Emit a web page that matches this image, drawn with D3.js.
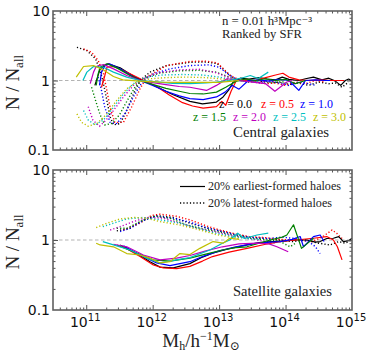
<!DOCTYPE html>
<html><head><meta charset="utf-8">
<script src="https://cdn.jsdelivr.net/npm/d3@7"></script>
<style>
html,body{margin:0;padding:0;background:#fff;}
svg{display:block;}
</style></head>
<body><svg id="c" width="374" height="359"></svg>
<script>
// ---------------- DATA ----------------
const redshifts = ["0.0","0.5","1.0","1.5","2.0","2.5","3.0"];
const zColors = ["#000000","#ff0000","#0000ff","#008000","#bf00bf","#00bfbf","#bfbf00"];
const yTickValues = [0.1, 1, 10];
const yTickLabels = ["0.1", "1", "10"];
const xTickExponents = [11, 12, 13, 14, 15];

// Central galaxies, 20% earliest-formed haloes: [log10 Mh, N/Nall]
const cenEarly = [
 [[11.13,0.85],[11.17,1.12],[11.21,1.47],[11.33,1.74],[11.51,1.52],[11.73,1.12],[11.91,0.95],[12.1,0.78],[12.3,0.63],[12.56,0.5],[12.75,0.46],[12.96,0.49],[13.06,0.58],[13.14,0.72],[13.21,0.94],[13.32,1.08],[13.45,1.05],[13.6,1.1],[13.72,1.05],[13.85,1.02],[13.95,1.12],[14.05,1.04],[14.2,1.0],[14.3,1.06],[14.42,1.12],[14.55,1.02],[14.65,1.08],[14.75,0.98],[14.83,0.85],[14.9,1.0],[14.95,1.05],[15.0,0.98]],
 [[11.23,0.8],[11.28,1.18],[11.31,1.55],[11.41,1.59],[11.56,1.39],[11.76,1.12],[11.91,0.95],[12.06,0.82],[12.25,0.62],[12.45,0.48],[12.6,0.43],[12.76,0.4],[12.96,0.42],[13.04,0.5],[13.1,0.44],[13.18,0.7],[13.26,1.0],[13.4,1.02],[13.55,1.0],[13.7,1.1],[13.85,1.2],[13.96,1.27],[14.05,1.12],[14.2,1.02],[14.35,1.0],[14.5,1.02],[14.7,1.0],[14.88,1.0]],
 [[11.2,0.85],[11.23,1.32],[11.28,1.64],[11.35,1.74],[11.51,1.47],[11.71,1.12],[11.84,0.98],[12.0,0.85],[12.2,0.7],[12.4,0.6],[12.56,0.55],[12.76,0.53],[12.96,0.58],[13.09,0.68],[13.2,0.85],[13.3,0.75],[13.44,1.0],[13.6,1.02],[13.75,0.98],[13.9,1.04],[14.05,1.0],[14.2,0.72],[14.3,1.0],[14.45,1.02],[14.6,1.0],[14.67,1.0]],
 [[11.15,0.85],[11.18,1.25],[11.21,1.55],[11.31,1.74],[11.46,1.52],[11.66,1.18],[11.81,1.0],[12.0,0.88],[12.2,0.77],[12.4,0.7],[12.56,0.65],[12.76,0.64],[12.96,0.68],[13.1,0.8],[13.25,0.97],[13.4,1.05],[13.55,1.0],[13.7,1.06],[13.85,1.0],[14.0,1.04],[14.15,0.9],[14.3,1.0]],
 [[11.06,0.9],[11.11,1.32],[11.15,1.59],[11.26,1.7],[11.41,1.47],[11.61,1.18],[11.81,1.0],[12.0,0.93],[12.2,0.87],[12.4,0.82],[12.56,0.8],[12.81,0.72],[12.96,0.85],[13.12,1.06],[13.3,1.0],[13.5,0.95],[13.7,0.9],[13.84,0.7],[14.02,0.95],[14.1,1.0]],
 [[10.95,1.0],[11.01,1.32],[11.11,1.59],[11.26,1.55],[11.41,1.32],[11.61,1.12],[11.81,1.0],[12.11,0.95],[12.3,0.91],[12.56,0.9],[12.8,0.92],[12.96,0.95],[13.15,1.0],[13.32,1.07],[13.47,1.18],[13.59,1.07],[13.74,1.32]],
 [[10.85,1.12],[10.96,1.59],[11.11,1.64],[11.26,1.42],[11.41,1.14],[11.55,1.02],[11.81,0.98],[12.1,0.95],[12.4,0.94],[12.7,0.94],[13.0,0.94],[13.2,0.98],[13.3,1.0]]
];
// Central galaxies, 20% latest-formed haloes
const cenLate = [
 [[10.86,3.0],[11.01,2.7],[11.14,2.05],[11.21,1.39],[11.26,0.9],[11.31,0.52],[11.36,0.3],[11.41,0.23],[11.51,0.24],[11.61,0.37],[11.71,0.64],[11.81,1.0],[11.96,1.32],[12.21,1.64],[12.56,1.83],[12.8,1.85],[12.97,1.75],[13.1,1.35],[13.2,1.1],[13.3,1.0],[13.45,0.95],[13.6,1.0],[13.75,0.92],[13.9,0.95],[14.05,0.88],[14.2,0.92],[14.35,0.85],[14.5,0.95],[14.65,0.9],[14.75,0.92],[14.85,0.8],[14.95,0.95]],
 [[10.96,2.85],[11.08,2.55],[11.18,1.94],[11.26,1.25],[11.31,0.72],[11.36,0.41],[11.43,0.25],[11.56,0.25],[11.68,0.41],[11.81,0.76],[11.91,1.12],[12.21,1.64],[12.56,1.88],[12.8,1.9],[12.97,1.8],[13.17,1.18],[13.27,1.06],[13.4,1.0],[13.55,0.95],[13.7,0.9],[13.85,0.92],[14.0,0.85],[14.15,0.95],[14.3,0.9],[14.45,1.0],[14.6,0.95]],
 [[11.18,1.12],[11.23,0.72],[11.28,0.41],[11.36,0.25],[11.46,0.24],[11.58,0.33],[11.71,0.58],[11.84,0.95],[12.01,1.25],[12.26,1.47],[12.56,1.64],[12.85,1.68],[13.0,1.55],[13.15,1.2],[13.3,1.0],[13.45,0.98],[13.6,0.92],[13.75,1.0],[13.9,0.92],[14.05,0.85],[14.2,0.95],[14.35,0.9],[14.45,0.85]],
 [[11.08,0.8],[11.16,0.45],[11.21,0.32],[11.28,0.23],[11.38,0.24],[11.5,0.32],[11.62,0.52],[11.75,0.85],[11.9,1.1],[12.1,1.28],[12.4,1.38],[12.7,1.4],[12.95,1.32],[13.15,1.12],[13.3,1.0],[13.5,0.97],[13.65,1.0],[13.8,0.93],[13.95,0.96],[14.05,0.9]],
 [[11.03,0.42],[11.1,0.27],[11.2,0.22],[11.3,0.27],[11.41,0.37],[11.56,0.58],[11.71,0.85],[11.91,1.12],[12.1,1.3],[12.4,1.42],[12.7,1.45],[12.95,1.3],[13.15,1.1],[13.3,1.0],[13.45,1.02],[13.6,0.95],[13.75,1.0],[13.85,0.95]],
 [[10.96,0.37],[11.03,0.27],[11.13,0.23],[11.26,0.27],[11.41,0.41],[11.56,0.64],[11.71,0.9],[11.91,1.12],[12.15,1.2],[12.45,1.22],[12.75,1.2],[13.0,1.12],[13.2,1.03],[13.4,1.0],[13.6,0.97]],
 [[10.86,0.33],[10.93,0.25],[11.03,0.22],[11.16,0.24],[11.31,0.33],[11.46,0.52],[11.61,0.76],[11.76,0.95],[11.96,1.06],[12.2,1.1],[12.5,1.12],[12.8,1.1],[13.05,1.05],[13.3,1.0]]
];
// Satellite galaxies, 20% earliest-formed haloes
const satEarly = [
 [[11.51,0.85],[11.76,0.64],[11.96,0.49],[12.11,0.41],[12.31,0.4],[12.56,0.46],[12.75,0.57],[12.9,0.65],[13.15,0.75],[13.42,0.85],[13.6,0.92],[13.8,0.95],[14.0,0.97],[14.15,1.0],[14.32,1.0],[14.45,0.93],[14.52,0.95],[14.62,1.05],[14.72,1.06],[14.8,1.12],[14.87,0.95],[14.95,0.98],[15.0,1.06]],
 [[11.56,0.8],[11.81,0.58],[12.01,0.44],[12.16,0.4],[12.36,0.39],[12.56,0.42],[12.75,0.5],[12.9,0.58],[13.15,0.67],[13.42,0.76],[13.7,0.87],[13.92,0.95],[14.15,1.0],[14.42,1.06],[14.62,1.12],[14.72,1.0],[14.78,0.8],[14.85,0.52]],
 [[11.56,0.83],[11.81,0.61],[12.06,0.47],[12.26,0.43],[12.56,0.49],[12.75,0.58],[13.0,0.7],[13.25,0.8],[13.5,0.88],[13.75,0.93],[13.92,0.95],[14.1,1.02],[14.22,1.12],[14.27,0.8],[14.42,1.12],[14.52,1.18],[14.58,0.95]],
 [[11.46,0.85],[11.71,0.68],[12.01,0.52],[12.26,0.5],[12.56,0.55],[12.8,0.63],[13.05,0.72],[13.25,0.78],[13.42,0.8],[13.6,0.9],[13.77,1.0],[13.95,1.1],[14.02,1.18],[14.12,1.65],[14.24,0.76],[14.42,1.06]],
 [[11.41,0.87],[11.61,0.8],[11.86,0.61],[12.11,0.52],[12.36,0.55],[12.56,0.6],[12.8,0.7],[13.05,0.8],[13.3,0.88],[13.57,0.9],[13.75,0.88],[13.87,0.8],[14.04,0.68]],
 [[11.25,0.95],[11.41,0.85],[11.66,0.72],[11.91,0.55],[12.11,0.47],[12.36,0.52],[12.56,0.56],[12.86,0.72],[13.05,0.9],[13.16,1.0],[13.28,1.25],[13.38,1.05],[13.57,1.18],[13.74,1.25]],
 [[11.15,0.9],[11.21,0.85],[11.41,0.8],[11.61,0.64],[11.81,0.61],[11.96,0.55],[12.11,0.47],[12.26,0.49],[12.41,0.64],[12.56,0.62],[12.71,0.76],[12.91,0.95],[13.06,0.9],[13.16,1.06],[13.3,1.02]]
];
// Satellite galaxies, 20% latest-formed haloes
const satLate = [
 [[11.46,1.35],[11.66,1.47],[11.86,1.94],[12.06,2.24],[12.31,2.1],[12.56,1.74],[12.8,1.5],[13.01,1.35],[13.25,1.2],[13.45,1.1],[13.7,1.05],[13.9,1.0],[14.1,0.95],[14.3,1.0],[14.5,0.9],[14.67,0.85],[14.8,0.95],[14.9,0.9],[15.0,1.0]],
 [[11.56,1.39],[11.81,1.74],[11.98,2.24],[12.11,2.34],[12.36,2.18],[12.56,1.94],[12.8,1.6],[13.01,1.39],[13.25,1.22],[13.45,1.12],[13.7,1.08],[13.92,1.02],[14.15,1.0],[14.4,0.95],[14.55,1.1],[14.7,1.39],[14.77,1.25],[14.85,1.05]],
 [[11.51,1.32],[11.66,1.47],[11.86,1.9],[12.06,2.18],[12.3,2.05],[12.56,1.8],[12.8,1.5],[13.01,1.35],[13.25,1.18],[13.5,1.08],[13.75,1.05],[13.95,1.1],[14.15,1.05],[14.35,0.95],[14.45,0.8],[14.52,0.64]],
 [[11.46,1.47],[11.61,1.47],[11.81,1.83],[12.01,2.18],[12.26,2.05],[12.51,1.64],[12.75,1.45],[13.0,1.3],[13.25,1.15],[13.5,1.05],[13.75,1.0],[13.92,0.95],[14.07,0.8],[14.15,0.9]],
 [[11.36,1.39],[11.51,1.55],[11.71,1.83],[11.91,2.1],[12.16,2.05],[12.41,1.74],[12.7,1.45],[12.95,1.3],[13.2,1.15],[13.45,1.05],[13.7,0.95],[13.85,0.9]],
 [[11.25,1.55],[11.41,1.74],[11.61,2.0],[11.86,2.1],[12.11,1.94],[12.41,1.74],[12.7,1.45],[12.95,1.25],[13.2,1.12],[13.4,1.05],[13.6,1.02]],
 [[11.15,1.5],[11.31,1.74],[11.51,2.0],[11.71,2.1],[11.91,2.05],[12.11,1.83],[12.41,1.64],[12.7,1.4],[12.95,1.2],[13.15,1.1],[13.3,1.05]]
];

// ---------------- DRAW ----------------
const svg = d3.select("#c");
const serif = "'Liberation Serif','DejaVu Serif',serif";
const sans = "'DejaVu Sans',sans-serif";
const L = 53, R = 352;
const x = d3.scaleLog().domain([Math.pow(10,10.5), 1e15]).range([L, R]);
const panels = [
  {top: 11, bot: 150, early: cenEarly, late: cenLate},
  {top: 170, bot: 310, early: satEarly, late: satLate}
];

const xMinor = [];
for (let e = 10; e <= 14; e++) for (let k = 2; k <= 9; k++) {
  const v = k * Math.pow(10, e);
  if (v > x.domain()[0] && v < x.domain()[1]) xMinor.push(v);
}
const xMajor = [11,12,13,14].map(e => Math.pow(10, e));
const yMinor = [];
for (let e = -1; e <= 0; e++) for (let k = 2; k <= 9; k++) yMinor.push(k * Math.pow(10, e));

const tickColor = "#555";

panels.forEach((p, pi) => {
  const y = d3.scaleLog().domain([0.1, 10]).range([p.bot, p.top]);
  p.y = y;
  const g = svg.append("g");
  const clipId = "clip" + pi;
  svg.append("clipPath").attr("id", clipId).append("rect")
    .attr("x", L).attr("y", p.top).attr("width", R - L).attr("height", p.bot - p.top);

  g.append("line").attr("x1", L).attr("x2", R).attr("y1", y(1)).attr("y2", y(1))
    .attr("stroke", "#aaa").attr("stroke-width", 0.9).attr("stroke-dasharray", "3.5,2.5");

  const line = d3.line().x(d => x(Math.pow(10, d[0]))).y(d => y(d[1]));
  const lg = g.append("g").attr("clip-path", `url(#${clipId})`);
  p.late.forEach((s, i) => {
    lg.append("path").attr("d", line(s)).attr("fill", "none")
      .attr("stroke", zColors[i]).attr("stroke-width", 1.4)
      .attr("stroke-dasharray", "1.2,2.1");
  });
  p.early.forEach((s, i) => {
    lg.append("path").attr("d", line(s)).attr("fill", "none")
      .attr("stroke", zColors[i]).attr("stroke-width", 1.2)
      .attr("stroke-linejoin", "round");
  });

  const style = sel => { sel.select(".domain").remove(); sel.selectAll("line").attr("stroke", tickColor).attr("stroke-width", 1); };
  g.append("g").attr("transform", `translate(0,${p.bot})`)
    .call(d3.axisBottom(x).tickValues(xMajor).tickSize(-5).tickFormat("")).call(style);
  g.append("g").attr("transform", `translate(0,${p.bot})`)
    .call(d3.axisBottom(x).tickValues(xMinor).tickSize(-2.5).tickFormat("")).call(style);
  g.append("g").attr("transform", `translate(0,${p.top})`)
    .call(d3.axisTop(x).tickValues(xMajor).tickSize(-5).tickFormat("")).call(style);
  g.append("g").attr("transform", `translate(0,${p.top})`)
    .call(d3.axisTop(x).tickValues(xMinor).tickSize(-2.5).tickFormat("")).call(style);
  g.append("g").attr("transform", `translate(${L},0)`)
    .call(d3.axisLeft(y).tickValues([1]).tickSize(-5).tickFormat("")).call(style);
  g.append("g").attr("transform", `translate(${L},0)`)
    .call(d3.axisLeft(y).tickValues(yMinor).tickSize(-2.5).tickFormat("")).call(style);
  g.append("g").attr("transform", `translate(${R},0)`)
    .call(d3.axisRight(y).tickValues([1]).tickSize(-5).tickFormat("")).call(style);
  g.append("g").attr("transform", `translate(${R},0)`)
    .call(d3.axisRight(y).tickValues(yMinor).tickSize(-2.5).tickFormat("")).call(style);

  g.append("rect").attr("x", L).attr("y", p.top).attr("width", R - L).attr("height", p.bot - p.top)
    .attr("fill", "none").attr("stroke", "#606060").attr("stroke-width", 1.6);

  yTickValues.forEach((v, i) => {
    g.append("text").attr("x", L - 3).attr("y", y(v)).attr("dy", "0.36em")
      .attr("text-anchor", "end").attr("font-family", sans).attr("font-size", 14)
      .attr("fill", "#111").text(yTickLabels[i]);
  });

  const yt = g.append("text")
    .attr("transform", `translate(19,${(p.top + p.bot) / 2 + 2}) rotate(-90)`)
    .attr("text-anchor", "middle").attr("font-family", serif).attr("font-size", 19)
    .attr("fill", "#222");
  yt.append("tspan").text("N / N");
  yt.append("tspan").attr("font-size", 13).attr("dy", 4).text("all");
});

// x tick labels (bottom panel)
const pb = panels[1];
xTickExponents.forEach(e => {
  const t = svg.append("text").attr("x", x(Math.pow(10, e)) - 1).attr("y", pb.bot + 17)
    .attr("text-anchor", "middle").attr("font-family", sans).attr("font-size", 14).attr("fill", "#111");
  t.append("tspan").text("10");
  t.append("tspan").attr("font-size", 10).attr("dy", -6).text(String(e));
});

// x axis title
const xt = svg.append("text").attr("x", 201).attr("y", 347).attr("text-anchor", "middle")
  .attr("font-family", serif).attr("font-size", 19).attr("fill", "#222");
xt.append("tspan").text("M");
xt.append("tspan").attr("font-size", 12).attr("dy", 3).text("h");
xt.append("tspan").attr("dy", -3).text("/h");
xt.append("tspan").attr("font-size", 12).attr("dy", -7).text("−1");
xt.append("tspan").attr("dy", 7).text("M");
xt.append("tspan").attr("font-size", 12).attr("dy", 3).text("⊙");

function txt(xp, yp, size, color, len) {
  const t = svg.append("text").attr("x", xp).attr("y", yp).attr("font-family", serif)
    .attr("font-size", size).attr("fill", color);
  if (len) t.attr("textLength", len).attr("lengthAdjust", "spacingAndGlyphs");
  return t;
}
txt(222, 25, 11.5, "#222", 90).text("n = 0.01 h³Mpc⁻³");
txt(222, 38, 11.5, "#222", 80).text("Ranked by SFR");

const zPos = [[219,107.5],[261,107.5],[300,107.5],[193,120.5],[233,120.5],[273,120.5],[313,120.5]];
redshifts.forEach((z, i) => {
  txt(zPos[i][0], zPos[i][1], 12.5, zColors[i], 33).text("z = " + z);
});
txt(233, 137, 15, "#222", 96).text("Central galaxies");

svg.append("line").attr("x1", 180).attr("x2", 205).attr("y1", 186.5).attr("y2", 186.5)
  .attr("stroke", "#000").attr("stroke-width", 1.2);
svg.append("line").attr("x1", 180).attr("x2", 205).attr("y1", 203).attr("y2", 203)
  .attr("stroke", "#000").attr("stroke-width", 1.4).attr("stroke-dasharray", "1.2,2.1");
txt(208, 190, 12.5, "#222", 133).text("20% earliest-formed haloes");
txt(208, 206.5, 12.5, "#222", 124).text("20% latest-formed haloes");
txt(233, 296, 15, "#222", 99).text("Satellite galaxies");
</script>
</body></html>
